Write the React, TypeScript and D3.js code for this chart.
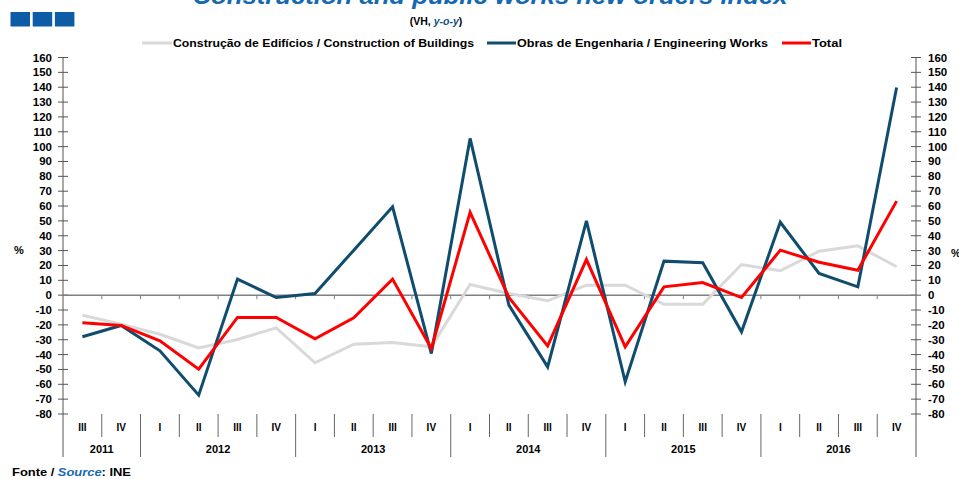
import React from "react";
import * as d3 from "d3";

const quarters = ["III","IV","I","II","III","IV","I","II","III","IV","I","II","III","IV","I","II","III","IV","I","II","III","IV"];
const years = [
  { label: "2011", count: 2 },
  { label: "2012", count: 4 },
  { label: "2013", count: 4 },
  { label: "2014", count: 4 },
  { label: "2015", count: 4 },
  { label: "2016", count: 4 },
];
const buildings = [-13.5,-19.5,-26.3,-35.5,-29.8,-22,-45.5,-33,-31.9,-34.8,7.2,1.1,-3.8,6.7,6.7,-6.1,-6.1,20.6,16.4,29.6,33.2,19.1];
const engineering = [-28,-20.4,-37.5,-67.3,10.8,-1.6,1.1,30.3,59.5,-39.3,105.5,-6.7,-48.3,50,-58.3,22.9,21.8,-24.7,49.1,14.6,5.6,139.8];
const total = [-18.6,-20.4,-30.7,-49.8,-15,-15,-29.4,-15.3,10.8,-35.9,55.7,-1.6,-34.1,24,-34.8,5.6,8.5,-1.6,30.3,22.2,16.8,63.3];
const yTicks = d3.range(-80, 161, 10);

const FONT = "'Liberation Sans', Arial, sans-serif";

export default function App() {
  const W = 959, H = 479;
  const left = 63, right = 916;
  const y = d3.scaleLinear().domain([-80, 160]).range([414, 57.5]);
  const x = d3.scaleBand<number>().domain(d3.range(quarters.length)).range([left, right]).paddingInner(0).paddingOuter(0);
  const cx = (i: number) => (x(i) as number) + x.bandwidth() / 2;
  const line = d3.line<number>().x((_, i) => cx(i)).y((d) => y(d));
  const y0 = y(0);
  const bw = x.bandwidth();

  let acc = 0;
  const yearPos = years.map((yr) => {
    const start = left + acc * bw;
    acc += yr.count;
    const end = left + acc * bw;
    return { ...yr, start, end };
  });
  const yearBoundaries = new Set(yearPos.map((p) => Math.round(p.end * 100)));

  return (
    <svg width={W} height={H} style={{ position: "absolute", left: 0, top: 0, background: "#fff" }} fontFamily={FONT}>
      {/* logo */}
      {[0, 1, 2].map((k) => (
        <rect key={k} x={10.5 + k * 22.2} y={12} width={19.5} height={14.5} fill="#0E5BA6" />
      ))}
      {/* title */}
      <text x={490} y={3.5} textAnchor="middle" fontSize={24} fontWeight="bold" fontStyle="italic" fill="#1569B2" textLength={595} lengthAdjust="spacingAndGlyphs">
        Construction and public works new orders index
      </text>
      <text x={436} y={25} textAnchor="middle" fontSize={10.5} fontWeight="bold" fill="#000">
        (VH, <tspan fill="#0E4F80" fontStyle="italic">y-o-y</tspan>)
      </text>
      {/* legend */}
      <g fontSize={11} fontWeight="bold" fill="#000">
        <line x1={142} x2={172} y1={43} y2={43} stroke="#D9D9D9" strokeWidth={3} />
        <text x={173} y={47} textLength={301} lengthAdjust="spacingAndGlyphs">Construção de Edifícios / Construction of Buildings</text>
        <line x1={487} x2={516} y1={43} y2={43} stroke="#0F4C6E" strokeWidth={3} />
        <text x={517} y={47} textLength={251} lengthAdjust="spacingAndGlyphs">Obras de Engenharia / Engineering Works</text>
        <line x1={782} x2={811} y1={43} y2={43} stroke="#FF0000" strokeWidth={3} />
        <text x={812} y={47} textLength={30} lengthAdjust="spacingAndGlyphs">Total</text>
      </g>
      {/* axes */}
      <line x1={left} x2={left} y1={57.5} y2={457} stroke="#555" strokeWidth={1} />
      <line x1={right} x2={right} y1={57.5} y2={457} stroke="#555" strokeWidth={1} />
      {yTicks.map((t) => (
        <g key={t}>
          <line x1={left - 5} x2={left + 5} y1={y(t)} y2={y(t)} stroke="#555" />
          <line x1={right - 5} x2={right + 5} y1={y(t)} y2={y(t)} stroke="#555" />
          <text x={52} y={y(t) + 4} textAnchor="end" fontSize={11.5} fontWeight="bold">{t}</text>
          <text x={928} y={y(t) + 4} textAnchor="start" fontSize={11.5} fontWeight="bold">{t}</text>
        </g>
      ))}
      <text x={14} y={254} fontSize={11} fontWeight="bold">%</text>
      <text x={951} y={257} fontSize={11} fontWeight="bold">%</text>
      {/* zero line */}
      <line x1={left} x2={right} y1={y0} y2={y0} stroke="#808080" strokeWidth={1.5} />
      {d3.range(1, quarters.length).map((i) => (
        <line key={i} x1={x(i) as number} x2={x(i) as number} y1={y0} y2={y0 + 4} stroke="#808080" />
      ))}
      {/* category separators */}
      {d3.range(1, quarters.length).map((i) => {
        const xp = x(i) as number;
        const isYear = yearBoundaries.has(Math.round(xp * 100));
        return <line key={i} x1={xp} x2={xp} y1={414} y2={isYear ? 457 : 437} stroke="#666" strokeWidth={1} />;
      })}
      {quarters.map((q, i) => (
        <text key={i} x={cx(i)} y={431} textAnchor="middle" fontSize={10} fontWeight="bold">{q}</text>
      ))}
      {yearPos.map((p) => (
        <text key={p.label} x={(p.start + p.end) / 2} y={453} textAnchor="middle" fontSize={11} fontWeight="bold">{p.label}</text>
      ))}
      {/* series */}
      <path d={line(buildings) || ""} fill="none" stroke="#D9D9D9" strokeWidth={3} strokeLinejoin="miter" />
      <path d={line(engineering) || ""} fill="none" stroke="#0F4C6E" strokeWidth={3} strokeLinejoin="miter" />
      <path d={line(total) || ""} fill="none" stroke="#FF0000" strokeWidth={3} strokeLinejoin="miter" />
      {/* footer */}
      <text x={12} y={476} fontSize={11} fontWeight="bold" textLength={119} lengthAdjust="spacingAndGlyphs">
        Fonte / <tspan fill="#1569B2" fontStyle="italic">Source</tspan>: INE
      </text>
    </svg>
  );
}
